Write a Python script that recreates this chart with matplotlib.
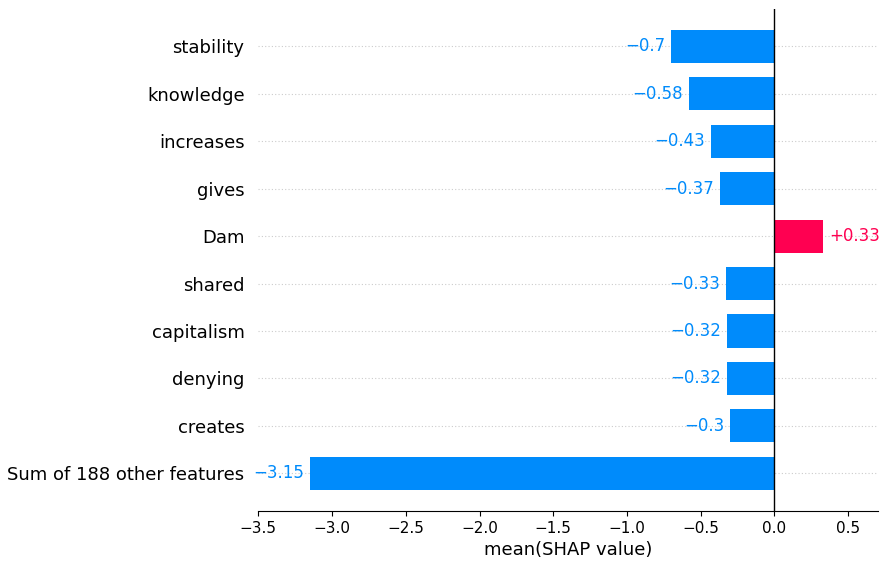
import matplotlib.pyplot as plt
import numpy as np

features = ['stability', 'knowledge', 'increases', 'gives', 'Dam', 'shared',
            'capitalism', 'denying', 'creates', 'Sum of 188 other features']
values = [-0.70, -0.58, -0.43, -0.37, 0.33, -0.33, -0.32, -0.32, -0.30, -3.15]
labels = ['\u22120.7', '\u22120.58', '\u22120.43', '\u22120.37', '+0.33', '\u22120.33',
          '\u22120.32', '\u22120.32', '\u22120.3', '\u22123.15']

blue = '#008bfb'
red = '#ff0051'

fig = plt.figure(figsize=(8.91, 5.68), dpi=100)
ax = fig.add_axes([0.29, 0.10, 0.695, 0.885])

y = np.arange(len(features))[::-1]
colors = [red if v > 0 else blue for v in values]
ax.barh(y, values, height=0.7, color=colors, align='center')
for yi in y:
    ax.axhline(yi, color='#cccccc', lw=0.8, ls=(0, (1, 2)), zorder=-1)
ax.axvline(0, color='black', lw=1)

for yi, v, lab, c in zip(y, values, labels, colors):
    off = 0.04 if v > 0 else -0.04
    ax.text(v + off, yi, lab, ha='left' if v > 0 else 'right', va='center',
            color=c, fontsize=12)

ax.set_yticks(y)
ax.set_yticklabels(features, fontsize=13)
ax.tick_params(axis='y', length=0, pad=10)
ax.tick_params(axis='x', labelsize=11)
ax.set_xlim(-3.5, 0.7)
ax.set_xticks(np.arange(-3.5, 0.51, 0.5))
ax.set_ylim(-0.8, len(features) - 0.2)
for s in ['top', 'right', 'left']:
    ax.spines[s].set_visible(False)
ax.set_xlabel('mean(SHAP value)', fontsize=13)

plt.savefig('out.png')
